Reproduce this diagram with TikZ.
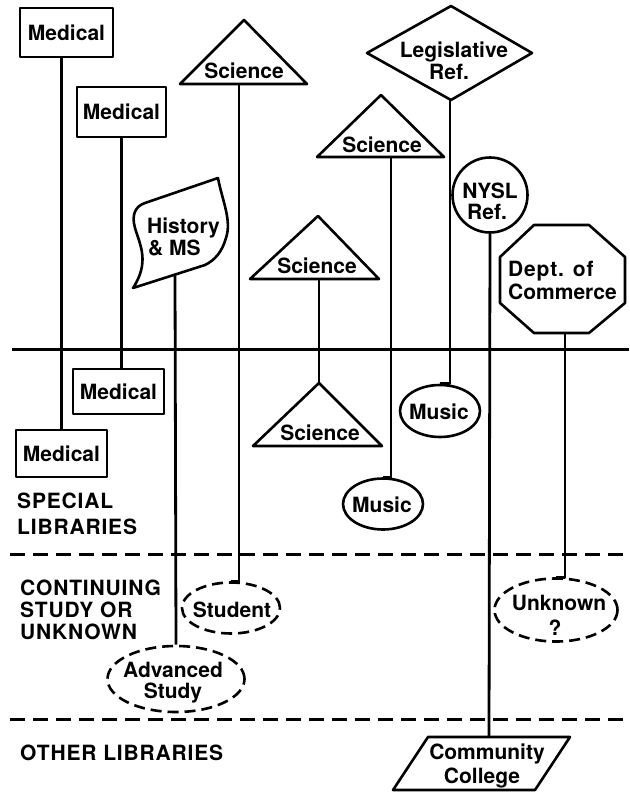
\documentclass[tikz,border=0pt]{standalone}
\usepackage{fontspec}
\setmainfont{TeX Gyre Heros}
\newfontfamily\labfont[LetterSpace=4]{TeX Gyre Heros}
\usetikzlibrary{shapes.geometric}
\begin{document}
\begin{tikzpicture}[x=1pt,y=-1pt,line join=round,
  every node/.style={font=\fontsize{21}{21}\selectfont\bfseries},
  ln/.style={line width=2.8pt},
  shp/.style={draw,line width=2.6pt},
  txt/.style={inner sep=0pt,anchor=base},
  lab/.style={inner sep=0pt,anchor=base west},
  reg/.style={lab,font=\fontsize{21}{21}\labfont\bfseries},
  box/.style={shp,rectangle,inner sep=0pt},
  ell/.style={shp,ellipse,inner sep=0pt},
  dell/.style={ell,dash pattern=on 11pt off 6pt},
  divider/.style={line width=3pt,dash pattern=on 15pt off 8pt}
]
\useasboundingbox (0,0) rectangle (629,792);

% ---- horizontal dividers
\coordinate (h0l) at (12,349);  \coordinate (h0r) at (629,349);
\coordinate (h1l) at (10,554);  \coordinate (h1r) at (629,554);
\coordinate (h2l) at (10,719);  \coordinate (h2r) at (629,719);
\draw[line width=3pt] (h0l) -- (h0r);
\draw[divider] (h1l) -- (h1r);
\draw[divider] (h2l) -- (h2r);

% ---- boxes
\node[box,minimum width=93pt,minimum height=49pt] (med1) at (66.5,32.5) {Medical};
\node[box,minimum width=89pt,minimum height=50pt] (med2) at (121.5,112) {Medical};
\node[box,minimum width=91pt,minimum height=45pt] (med2b) at (118.5,391.5) {Medical};
\node[box,minimum width=91pt,minimum height=47pt] (med1b) at (61.5,453.5) {Medical};

% ---- flag
\draw[shp] (133,288) .. controls (150,262) and (140,245) .. (135,228)
  .. controls (131,214) and (136,206) .. (145,203) -- (218,178)
  .. controls (222,200) and (232,220) .. (226,238)
  .. controls (222,252) and (215,260) .. (205,265) -- cycle;
\coordinate (histb) at (175,275);
\node[lab] (hist1) at (147,233) {History};
\node[lab] (hist2) at (148,255) {\& MS};

% ---- triangles
\draw[shp] (180,84) -- (244,20) -- (307,84) -- cycle;
\coordinate (s1b) at (239,84);
\node[txt] (s1t) at (244,78) {Science};

\draw[shp] (250,279) -- (318,216) -- (379,279) -- cycle;
\coordinate (s2b) at (319,279);
\node[txt] (s2t) at (317,273) {Science};

\draw[shp] (253,446) -- (319,383) -- (382,446) -- cycle;
\coordinate (s3a) at (319,383);
\node[txt] (s3t) at (320,440) {Science};

\draw[shp] (317,157) -- (381,95) -- (444,157) -- cycle;
\coordinate (s4b) at (391,157);
\node[txt] (s4t) at (382,152) {Science};

% ---- diamond
\draw[shp] (367,53) -- (451,6) -- (532,53) -- (451,100) -- cycle;
\coordinate (legb) at (450,100);
\node[txt] (leg1) at (454,58) {Legislative};
\node[txt] (leg2) at (449,80) {Ref.};

% ---- NYSL circle
\node[shp,circle,inner sep=0pt,minimum size=75pt] (nysl) at (490,195) {};
\node[txt] (nysl1) at (490,198) {NYSL};
\node[txt] (nysl2) at (487,219) {Ref.};

% ---- octagon
\draw[shp] (534,225) -- (589,225) -- (625,257) -- (625,303) -- (589,333)
  -- (534,333) -- (500,303) -- (500,257) -- cycle;
\coordinate (octb) at (565,333);
\node[lab,font=\fontsize{21}{21}\labfont\bfseries] (oct1) at (508,276) {Dept. of};
\node[lab] (oct2) at (508,299) {Commerce};

% ---- ellipses
\node[ell,minimum width=80pt,minimum height=52pt] (mus1) at (440,411) {};
\node[txt] (mus1t) at (439,419) {Music};
\node[ell,minimum width=80pt,minimum height=51pt] (mus2) at (383,504) {};
\node[txt] (mus2t) at (382,512) {Music};

\node[dell,minimum width=98pt,minimum height=51pt] (stu) at (231,608) {};
\node[txt] (stut) at (232,617) {Student};
\node[dell,minimum width=137pt,minimum height=66pt] (adv) at (176,679) {};
\node[txt] (adv1) at (173,677) {Advanced};
\node[txt] (adv2) at (173,698) {Study};
\node[dell,minimum width=123pt,minimum height=63pt] (unk) at (556,610) {};
\node[txt] (unk1) at (559,610) {Unknown};
\node[txt] (unk2) at (555,635) {?};

% ---- parallelogram
\draw[shp] (428,737) -- (570,737) -- (535,790) -- (393,790) -- cycle;
\coordinate (ccn) at (489,737);
\node[txt] (cc1) at (487,759) {Community};
\node[txt] (cc2) at (482,783) {College};

% ---- stems
\draw[ln] (med1b.north) -- (med1b.north |- med1.south);
\draw[ln] (med2.south) -- (med2.south |- med2b.north);
\draw[ln] (histb) -- (adv.north);
\draw[ln] (s1b) |- (stu.north);
\draw[ln] (s2b) -- (s3a);
\draw[ln] (s4b) |- (mus2.north);
\draw[ln] (legb) |- (mus1.north);
\draw[ln] (nysl.south) -- (ccn);
\draw[ln] (octb) |- (unk.north);

% ---- region labels
\node[reg] (sp1) at (17,508) {SPECIAL};
\node[reg] (sp2) at (17,534) {LIBRARIES};
\node[reg] (cs1) at (20,595) {CONTINUING};
\node[reg] (cs2) at (20,617) {STUDY OR};
\node[reg] (cs3) at (20,639) {UNKNOWN};
\node[reg] (ol) at (20,760) {OTHER LIBRARIES};
\end{tikzpicture}
\end{document}
